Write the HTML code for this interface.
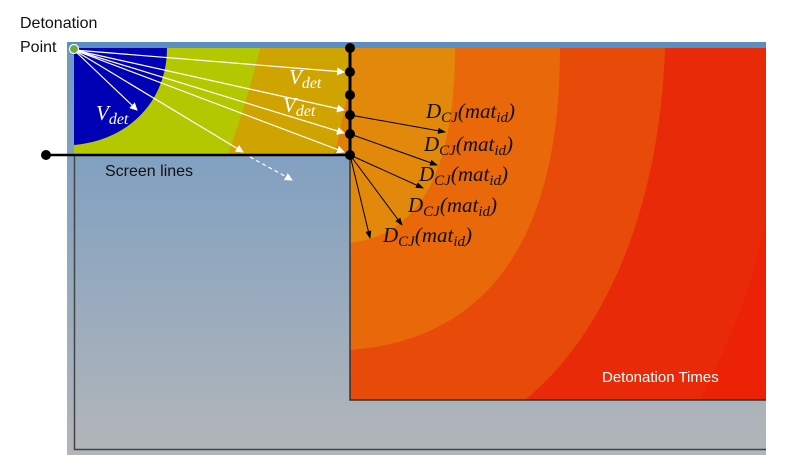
<!DOCTYPE html>
<html><head><meta charset="utf-8"><style>
html,body{margin:0;padding:0;background:#fff;width:788px;height:472px;overflow:hidden}
svg{display:block}
.s{font-family:"Liberation Sans",sans-serif}
.m{font-family:"Liberation Serif",serif;font-style:italic}
</style></head><body>
<svg width="788" height="472" viewBox="0 0 788 472" xmlns="http://www.w3.org/2000/svg">
<defs>
<linearGradient id="bg" x1="0" y1="0" x2="0" y2="1">
<stop offset="0" stop-color="#6e98c4"/><stop offset="1" stop-color="#b3b6b9"/>
</linearGradient>
<marker id="aw" markerWidth="8" markerHeight="8" refX="7" refY="4" orient="auto" markerUnits="userSpaceOnUse"><path d="M0,0 L8,4 L0,8z" fill="#fff"/></marker>
<marker id="ab" markerWidth="8" markerHeight="8" refX="7" refY="4" orient="auto" markerUnits="userSpaceOnUse"><path d="M0,1 L8,4 L0,7z" fill="#000"/></marker>
</defs>
<rect x="67" y="42" width="699" height="413" fill="url(#bg)"/>
<rect x="67" y="42" width="699" height="6" fill="#5b8fc4"/>
<path d="M74.5,155 L74.5,449.5 L766,449.5" fill="none" stroke="#444" stroke-width="1.5"/>
<rect x="74" y="48" width="276" height="107" fill="#d0a400"/>
<path d="M74,48 L260,48 C250,90 238,125 228,155 L74,155z" fill="#b4c800"/>
<path d="M74,48 L167,48 C167,100 130,140 74,145z" fill="#0000b4"/>
<path d="M350,85 C343,110 339,140 334,155 L350,155z" fill="#e08000"/>
<rect x="350" y="48" width="416" height="352" fill="#e82a08"/>
<path d="M766,220 C750,300 720,360 700,400 L766,400z" fill="#ec2206"/>
<path d="M350,48 L665,48 C660,200 610,330 525,400 L350,400z" fill="#e84a0a"/>
<path d="M350,48 L560,48 C560,250 480,340 350,350z" fill="#e8680a"/>
<path d="M350,48 L455,48 C455,170 420,235 350,243z" fill="#e2880a"/>
<path d="M350,155 L350,400 L766,400" fill="none" stroke="#333" stroke-width="1.5"/>
<line x1="46" y1="155" x2="350" y2="155" stroke="#000" stroke-width="2.5"/>
<line x1="350" y1="48" x2="350" y2="155" stroke="#000" stroke-width="3"/>
<g fill="#000">
<circle cx="46" cy="155" r="5"/>
<circle cx="350" cy="48" r="5"/><circle cx="350" cy="72" r="5"/><circle cx="350" cy="95" r="5"/>
<circle cx="350" cy="115" r="5"/><circle cx="350" cy="134" r="5"/><circle cx="350" cy="155" r="5"/>
</g>
<g stroke="#fff" stroke-width="1.2" fill="none" marker-end="url(#aw)">
<line x1="74" y1="50" x2="344" y2="72"/>
<line x1="74" y1="50" x2="344" y2="110"/>
<line x1="74" y1="50" x2="344" y2="133"/>
<line x1="74" y1="50" x2="344" y2="152"/>
<line x1="74" y1="50" x2="137" y2="110"/>
<line x1="74" y1="50" x2="243" y2="152"/>
<line x1="250" y1="157" x2="292" y2="180" stroke-dasharray="4,3"/>
</g>
<circle cx="74" cy="49" r="4.5" fill="#6aaa3a" stroke="#fff" stroke-width="1.2"/>
<g stroke="#000" stroke-width="1" marker-end="url(#ab)">
<line x1="350" y1="115" x2="445" y2="132"/>
<line x1="350" y1="134" x2="437" y2="165"/>
<line x1="350" y1="155" x2="423" y2="188"/>
<line x1="350" y1="155" x2="402" y2="225"/>
<line x1="350" y1="155" x2="370" y2="238"/>
</g>
<g class="m" fill="#fff" font-size="21">
<text x="96" y="120">V<tspan font-size="16" dy="4">det</tspan></text>
<text x="289" y="84">V<tspan font-size="16" dy="4">det</tspan></text>
<text x="283" y="112">V<tspan font-size="16" dy="4">det</tspan></text>
</g>
<g class="m" fill="#111" font-size="21">
<text x="426" y="118">D<tspan font-size="15" dy="4">CJ</tspan><tspan dy="-4">(mat</tspan><tspan font-size="15" dy="4">id</tspan><tspan dy="-4">)</tspan></text>
<text x="424" y="151">D<tspan font-size="15" dy="4">CJ</tspan><tspan dy="-4">(mat</tspan><tspan font-size="15" dy="4">id</tspan><tspan dy="-4">)</tspan></text>
<text x="419" y="181">D<tspan font-size="15" dy="4">CJ</tspan><tspan dy="-4">(mat</tspan><tspan font-size="15" dy="4">id</tspan><tspan dy="-4">)</tspan></text>
<text x="408" y="212">D<tspan font-size="15" dy="4">CJ</tspan><tspan dy="-4">(mat</tspan><tspan font-size="15" dy="4">id</tspan><tspan dy="-4">)</tspan></text>
<text x="383" y="242">D<tspan font-size="15" dy="4">CJ</tspan><tspan dy="-4">(mat</tspan><tspan font-size="15" dy="4">id</tspan><tspan dy="-4">)</tspan></text>
</g>
<g class="s" fill="#111" font-size="16">
<text x="20" y="28">Detonation</text>
<text x="20" y="52">Point</text>
<text x="105" y="176">Screen lines</text>
</g>
<text class="s" x="602" y="382" fill="#fff" font-size="15">Detonation Times</text>
</svg>
</body></html>
